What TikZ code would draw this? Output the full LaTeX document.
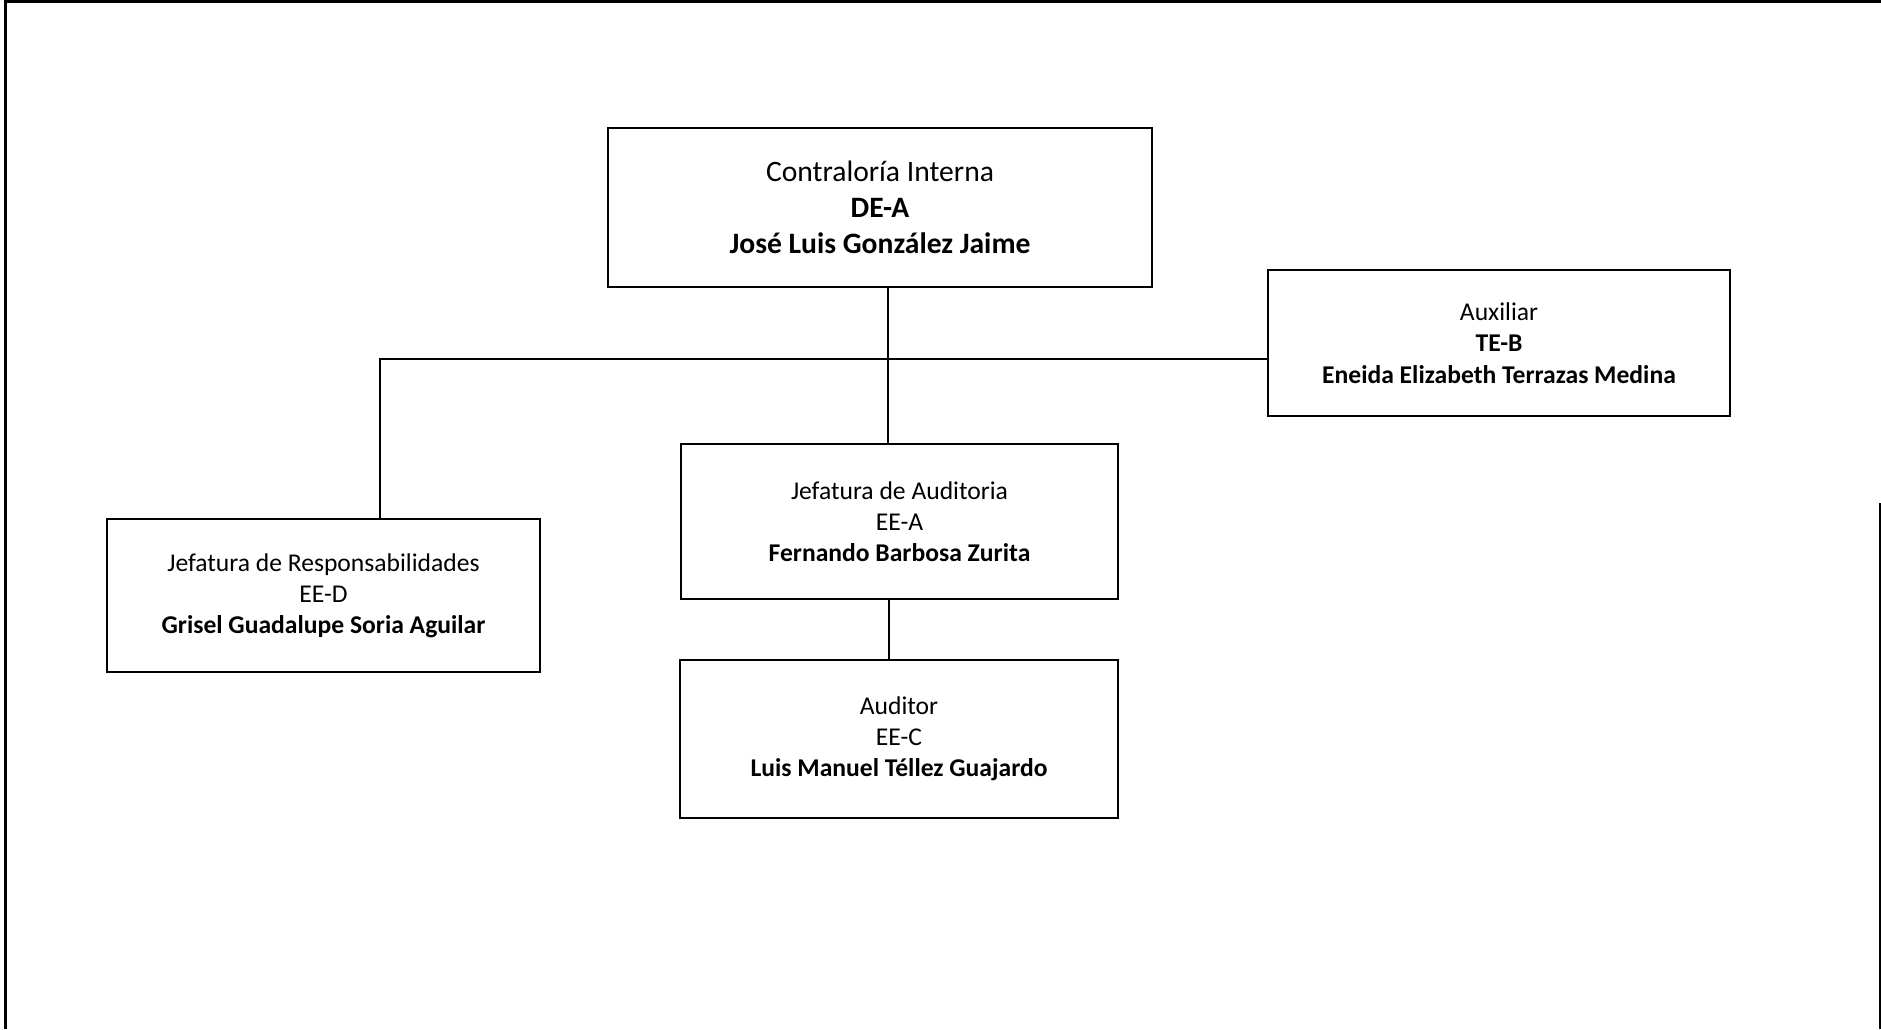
\documentclass[tikz,border=0pt]{standalone}
\usepackage{fontspec}
\setmainfont{Carlito}
\begin{document}
\begin{tikzpicture}[x=0.5pt,y=-0.5pt,
  orgbox/.style={draw=black, line width=1pt, fill=white, rectangle, inner sep=0pt, align=center},
  bigtext/.style={font=\fontsize{14.8}{18}\selectfont},
  smalltext/.style={font=\fontsize{12.8}{15.6}\selectfont},
  link/.style={draw=black, line width=0.8pt},
  frameline/.style={draw=black, line width=1.5pt}]
\useasboundingbox (0,0) rectangle (1881,1029);
% page frame
\draw[frameline] (5,1029) -- (5,1.5) -- (1881,1.5);
\draw[frameline] (1880,503) -- (1880,1029);
% boxes
\node[orgbox, bigtext, minimum width=272pt, minimum height=79.5pt] (ci) at (880,207.5)
  {Contraloría Interna\\ \textbf{DE-A}\\ \textbf{José Luis González Jaime}};
\node[orgbox, smalltext, minimum width=231pt, minimum height=73pt] (aux) at (1499,343)
  {Auxiliar\\ \textbf{TE-B}\\ \textbf{Eneida Elizabeth Terrazas Medina}};
\node[orgbox, smalltext, minimum width=218.5pt, minimum height=77.5pt] (ja) at (899.5,521.5)
  {Jefatura de Auditoria\\ EE-A\\ \textbf{Fernando Barbosa Zurita}};
\node[orgbox, smalltext, minimum width=216.5pt, minimum height=76.5pt] (jr) at (323.5,595.5)
  {Jefatura de Responsabilidades\\ EE-D\\ \textbf{Grisel Guadalupe Soria Aguilar}};
\node[orgbox, smalltext, minimum width=219pt, minimum height=79pt] (au) at (899,739)
  {Auditor\\ EE-C\\ \textbf{Luis Manuel Téllez Guajardo}};
% connectors
\coordinate (j) at (888,359);
\coordinate (l) at (380,359);
\coordinate (k) at (889,600);
\draw[link] (ci.south -| j) -- (j) -- (ja.north -| j);
\draw[link] (jr.north -| l) -- (l) -- (aux.west |- l);
\draw[link] (ja.south -| k) -- (au.north -| k);
\end{tikzpicture}
\end{document}
